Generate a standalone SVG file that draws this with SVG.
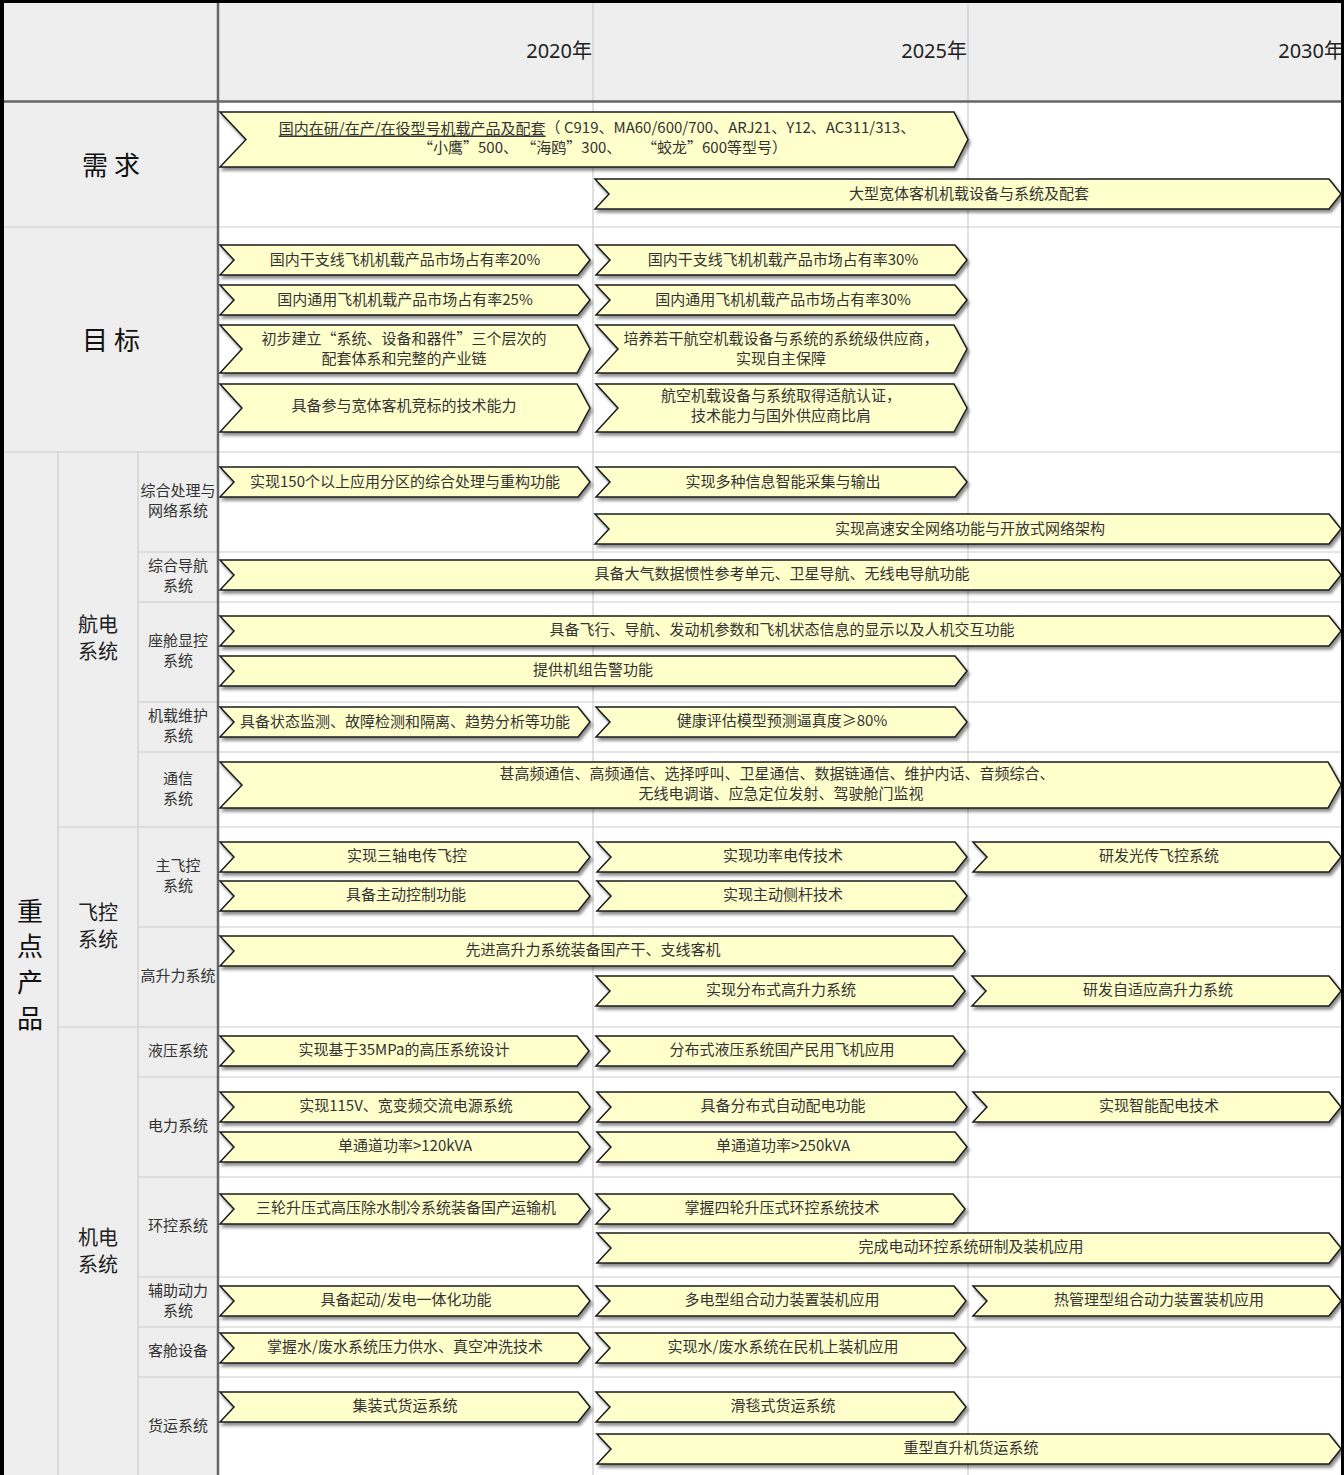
<svg xmlns="http://www.w3.org/2000/svg" width="1344" height="1475" viewBox="0 0 1344 1475">
<defs>
<filter id="sh" x="-5%" y="-20%" width="110%" height="160%">
<feDropShadow dx="2" dy="3" stdDeviation="1.5" flood-color="#000" flood-opacity="0.45"/>
</filter>
<style>
.chev{fill:#ffffcc;stroke:#1a1a1a;stroke-width:1.5;stroke-linejoin:miter;filter:url(#sh)}
.t{font-family:"Noto Sans CJK SC","Noto Sans",sans-serif;font-size:15px;fill:#333;text-anchor:middle;dominant-baseline:central;transform:translateY(-1.5px)}
.yr{font-family:"Noto Sans","Noto Sans CJK SC",sans-serif;font-size:20px;fill:#222;text-anchor:end;dominant-baseline:central;transform:translateY(-1px)}
.big{font-family:"Noto Sans CJK SC",sans-serif;font-size:26px;fill:#111;text-anchor:middle;dominant-baseline:central;transform:translateY(-2px)}
.mid{font-family:"Noto Sans CJK SC",sans-serif;font-size:20px;fill:#222;text-anchor:middle;dominant-baseline:central;transform:translateY(-1.5px)}
.sub{font-family:"Noto Sans CJK SC",sans-serif;font-size:15px;fill:#333;text-anchor:middle;dominant-baseline:central;transform:translateY(-1.5px)}
.lt{stroke:#cccccc;stroke-width:1.2;fill:none}
.dk{stroke:#666666;stroke-width:2.5;fill:none}
</style>
</defs>
<rect x="0" y="0" width="1344" height="1475" fill="#ffffff"/>
<g id="grid">
<rect x="4" y="3" width="1337" height="98" fill="#eeeeee"/>
<rect x="4" y="101" width="214" height="1374" fill="#eeeeee"/>
<line class="lt" x1="593" y1="3" x2="593" y2="1475"/>
<line class="lt" x1="968" y1="3" x2="968" y2="1475"/>
<line class="lt" x1="58" y1="452" x2="58" y2="1475"/>
<line class="lt" x1="138" y1="452" x2="138" y2="1475"/>
<line class="lt" x1="4" y1="227" x2="1341" y2="227"/>
<line class="lt" x1="4" y1="452" x2="1341" y2="452"/>
<line class="lt" x1="138" y1="552" x2="1341" y2="552"/>
<line class="lt" x1="138" y1="602" x2="1341" y2="602"/>
<line class="lt" x1="138" y1="702" x2="1341" y2="702"/>
<line class="lt" x1="138" y1="752" x2="1341" y2="752"/>
<line class="lt" x1="58" y1="827" x2="1341" y2="827"/>
<line class="lt" x1="138" y1="927" x2="1341" y2="927"/>
<line class="lt" x1="58" y1="1027" x2="1341" y2="1027"/>
<line class="lt" x1="138" y1="1077" x2="1341" y2="1077"/>
<line class="lt" x1="138" y1="1177" x2="1341" y2="1177"/>
<line class="lt" x1="138" y1="1277" x2="1341" y2="1277"/>
<line class="lt" x1="138" y1="1327" x2="1341" y2="1327"/>
<line class="lt" x1="138" y1="1377" x2="1341" y2="1377"/>
<line class="dk" x1="4" y1="101.5" x2="1341" y2="101.5"/>
<line class="dk" x1="218" y1="3" x2="218" y2="1475"/>
</g>
<g id="header">
<text class="yr" x="592" y="51">2020年</text>
<text class="yr" x="967" y="51">2025年</text>
<text class="yr" x="1344" y="51">2030年</text>
</g>
<g id="labels">
<text class="big" x="111" y="165">需 求</text>
<text class="big" x="111" y="340">目 标</text>
<text class="big" x="30" y="911">重</text>
<text class="big" x="30" y="946">点</text>
<text class="big" x="30" y="982">产</text>
<text class="big" x="30" y="1018">品</text>
<text class="mid" x="98" y="625">航电</text>
<text class="mid" x="98" y="652">系统</text>
<text class="mid" x="98" y="913">飞控</text>
<text class="mid" x="98" y="940">系统</text>
<text class="mid" x="98" y="1238">机电</text>
<text class="mid" x="98" y="1265">系统</text>
<text class="sub" x="178" y="491">综合处理与</text>
<text class="sub" x="178" y="511">网络系统</text>
<text class="sub" x="178" y="566">综合导航</text>
<text class="sub" x="178" y="586">系统</text>
<text class="sub" x="178" y="641">座舱显控</text>
<text class="sub" x="178" y="661">系统</text>
<text class="sub" x="178" y="716">机载维护</text>
<text class="sub" x="178" y="736">系统</text>
<text class="sub" x="178" y="779">通信</text>
<text class="sub" x="178" y="799">系统</text>
<text class="sub" x="178" y="866">主飞控</text>
<text class="sub" x="178" y="886">系统</text>
<text class="sub" x="178" y="976">高升力系统</text>
<text class="sub" x="178" y="1051">液压系统</text>
<text class="sub" x="178" y="1126">电力系统</text>
<text class="sub" x="178" y="1226">环控系统</text>
<text class="sub" x="178" y="1291">辅助动力</text>
<text class="sub" x="178" y="1311">系统</text>
<text class="sub" x="178" y="1351">客舱设备</text>
<text class="sub" x="178" y="1426">货运系统</text>
</g>
<g id="n-demand-1">
<polygon class="chev" points="220,112 954,112 968,139.5 954,167 220,167 246,139.5"/>
<text class="t" x="597" y="128"><tspan text-decoration="underline">国内在研/在产/在役型号机载产品及配套</tspan>（ C919、MA60/600/700、ARJ21、Y12、AC311/313、</text>
<text class="t" style="text-anchor:start" x="418" y="148">“小鹰”500、 “海鸥”300、</text>
<text class="t" style="text-anchor:start" x="642" y="148">“蛟龙”600等型号）</text>
</g>
<g id="n-demand-2">
<polygon class="chev" points="595,179 1329,179 1341,194 1329,209 595,209 609,194"/>
<text class="t" x="969" y="194">大型宽体客机机载设备与系统及配套</text>
</g>
<g id="n-goal-1a">
<polygon class="chev" points="220,245 578,245 590,260 578,275 220,275 234,260"/>
<text class="t" x="405" y="260">国内干支线飞机机载产品市场占有率20%</text>
</g>
<g id="n-goal-1b">
<polygon class="chev" points="596,245 955,245 967,260 955,275 596,275 610,260"/>
<text class="t" x="783" y="260">国内干支线飞机机载产品市场占有率30%</text>
</g>
<g id="n-goal-2a">
<polygon class="chev" points="220,285 578,285 590,300 578,315 220,315 234,300"/>
<text class="t" x="405" y="300">国内通用飞机机载产品市场占有率25%</text>
</g>
<g id="n-goal-2b">
<polygon class="chev" points="596,285 955,285 967,300 955,315 596,315 610,300"/>
<text class="t" x="783" y="300">国内通用飞机机载产品市场占有率30%</text>
</g>
<g id="n-goal-3a">
<polygon class="chev" points="220,325 577,325 590,349 577,373 220,373 242,349"/>
<text class="t" x="404" y="339">初步建立“系统、设备和器件”三个层次的</text>
<text class="t" x="404" y="359">配套体系和完整的产业链</text>
</g>
<g id="n-goal-3b">
<polygon class="chev" points="596,325 954,325 967,349 954,373 596,373 618,349"/>
<text class="t" x="781" y="339">培养若干航空机载设备与系统的系统级供应商，</text>
<text class="t" x="781" y="359">实现自主保障</text>
</g>
<g id="n-goal-4a">
<polygon class="chev" points="220,384 577,384 590,408 577,432 220,432 242,408"/>
<text class="t" x="404" y="406">具备参与宽体客机竞标的技术能力</text>
</g>
<g id="n-goal-4b">
<polygon class="chev" points="596,384 954,384 967,408 954,432 596,432 618,408"/>
<text class="t" x="781" y="396">航空机载设备与系统取得适航认证，</text>
<text class="t" x="781" y="416">技术能力与国外供应商比肩</text>
</g>
<g id="n-ips-1">
<polygon class="chev" points="220,467 578,467 590,482 578,497 220,497 234,482"/>
<text class="t" x="405" y="482">实现150个以上应用分区的综合处理与重构功能</text>
</g>
<g id="n-ips-2">
<polygon class="chev" points="596,467 955,467 967,482 955,497 596,497 610,482"/>
<text class="t" x="783" y="482">实现多种信息智能采集与输出</text>
</g>
<g id="n-ips-3">
<polygon class="chev" points="595,514 1329,514 1341,529 1329,544 595,544 609,529"/>
<text class="t" x="970" y="529">实现高速安全网络功能与开放式网络架构</text>
</g>
<g id="n-nav-1">
<polygon class="chev" points="220,560 1329,560 1341,575 1329,590 220,590 234,575"/>
<text class="t" x="782" y="574">具备大气数据惯性参考单元、卫星导航、无线电导航功能</text>
</g>
<g id="n-cds-1">
<polygon class="chev" points="220,616 1329,616 1341,631 1329,646 220,646 234,631"/>
<text class="t" x="782" y="630">具备飞行、导航、发动机参数和飞机状态信息的显示以及人机交互功能</text>
</g>
<g id="n-cds-2">
<polygon class="chev" points="220,656 955,656 967,671 955,686 220,686 234,671"/>
<text class="t" x="593" y="670">提供机组告警功能</text>
</g>
<g id="n-cms-1">
<polygon class="chev" points="220,707 578,707 590,722 578,737 220,737 234,722"/>
<text class="t" x="405" y="722">具备状态监测、故障检测和隔离、趋势分析等功能</text>
</g>
<g id="n-cms-2">
<polygon class="chev" points="596,707 955,707 967,722 955,737 596,737 610,722"/>
<text class="t" x="782" y="721">健康评估模型预测逼真度≥80%</text>
</g>
<g id="n-com-1">
<polygon class="chev" points="220,762 1328,762 1341,785 1328,808 220,808 242,785"/>
<text class="t" x="777" y="774">甚高频通信、高频通信、选择呼叫、卫星通信、数据链通信、维护内话、音频综合、</text>
<text class="t" x="781" y="794">无线电调谐、应急定位发射、驾驶舱门监视</text>
</g>
<g id="n-pfc-1">
<polygon class="chev" points="220,842 578,842 590,857 578,872 220,872 234,857"/>
<text class="t" x="407" y="856">实现三轴电传飞控</text>
</g>
<g id="n-pfc-2">
<polygon class="chev" points="597,842 955,842 967,857 955,872 597,872 611,857"/>
<text class="t" x="783" y="856">实现功率电传技术</text>
</g>
<g id="n-pfc-3">
<polygon class="chev" points="973,842 1329,842 1341,857 1329,872 973,872 987,857"/>
<text class="t" x="1159" y="856">研发光传飞控系统</text>
</g>
<g id="n-pfc-4">
<polygon class="chev" points="220,881 578,881 590,896 578,911 220,911 234,896"/>
<text class="t" x="406" y="895">具备主动控制功能</text>
</g>
<g id="n-pfc-5">
<polygon class="chev" points="597,881 955,881 967,896 955,911 597,911 611,896"/>
<text class="t" x="783" y="895">实现主动侧杆技术</text>
</g>
<g id="n-hl-1">
<polygon class="chev" points="220,936 953,936 965,951 953,966 220,966 234,951"/>
<text class="t" x="593" y="950">先进高升力系统装备国产干、支线客机</text>
</g>
<g id="n-hl-2">
<polygon class="chev" points="596,976 953,976 965,991 953,1006 596,1006 610,991"/>
<text class="t" x="781" y="990">实现分布式高升力系统</text>
</g>
<g id="n-hl-3">
<polygon class="chev" points="972,976 1329,976 1341,991 1329,1006 972,1006 986,991"/>
<text class="t" x="1158" y="990">研发自适应高升力系统</text>
</g>
<g id="n-hyd-1">
<polygon class="chev" points="220,1036 577,1036 589,1051 577,1066 220,1066 234,1051"/>
<text class="t" x="404" y="1050">实现基于35MPa的高压系统设计</text>
</g>
<g id="n-hyd-2">
<polygon class="chev" points="596,1036 953,1036 965,1051 953,1066 596,1066 610,1051"/>
<text class="t" x="782" y="1050">分布式液压系统国产民用飞机应用</text>
</g>
<g id="n-pwr-1">
<polygon class="chev" points="220,1092 578,1092 590,1107 578,1122 220,1122 234,1107"/>
<text class="t" x="406" y="1106">实现115V、宽变频交流电源系统</text>
</g>
<g id="n-pwr-2">
<polygon class="chev" points="597,1092 955,1092 967,1107 955,1122 597,1122 611,1107"/>
<text class="t" x="783" y="1106">具备分布式自动配电功能</text>
</g>
<g id="n-pwr-3">
<polygon class="chev" points="973,1092 1329,1092 1341,1107 1329,1122 973,1122 987,1107"/>
<text class="t" x="1159" y="1106">实现智能配电技术</text>
</g>
<g id="n-pwr-4">
<polygon class="chev" points="220,1132 578,1132 590,1147 578,1162 220,1162 234,1147"/>
<text class="t" x="405" y="1146">单通道功率&gt;120kVA</text>
</g>
<g id="n-pwr-5">
<polygon class="chev" points="597,1132 955,1132 967,1147 955,1162 597,1162 611,1147"/>
<text class="t" x="783" y="1146">单通道功率&gt;250kVA</text>
</g>
<g id="n-ecs-1">
<polygon class="chev" points="220,1194 578,1194 590,1209 578,1224 220,1224 234,1209"/>
<text class="t" x="406" y="1208">三轮升压式高压除水制冷系统装备国产运输机</text>
</g>
<g id="n-ecs-2">
<polygon class="chev" points="596,1194 953,1194 965,1209 953,1224 596,1224 610,1209"/>
<text class="t" x="782" y="1208">掌握四轮升压式环控系统技术</text>
</g>
<g id="n-ecs-3">
<polygon class="chev" points="597,1233 1329,1233 1341,1248 1329,1263 597,1263 611,1248"/>
<text class="t" x="971" y="1247">完成电动环控系统研制及装机应用</text>
</g>
<g id="n-apu-1">
<polygon class="chev" points="220,1286 578,1286 590,1301 578,1316 220,1316 234,1301"/>
<text class="t" x="406" y="1300">具备起动/发电一体化功能</text>
</g>
<g id="n-apu-2">
<polygon class="chev" points="596,1286 954,1286 966,1301 954,1316 596,1316 610,1301"/>
<text class="t" x="782" y="1300">多电型组合动力装置装机应用</text>
</g>
<g id="n-apu-3">
<polygon class="chev" points="973,1286 1329,1286 1341,1301 1329,1316 973,1316 987,1301"/>
<text class="t" x="1159" y="1300">热管理型组合动力装置装机应用</text>
</g>
<g id="n-cab-1">
<polygon class="chev" points="220,1333 578,1333 590,1348 578,1363 220,1363 234,1348"/>
<text class="t" x="405" y="1347">掌握水/废水系统压力供水、真空冲洗技术</text>
</g>
<g id="n-cab-2">
<polygon class="chev" points="596,1333 954,1333 966,1348 954,1363 596,1363 610,1348"/>
<text class="t" x="783" y="1347">实现水/废水系统在民机上装机应用</text>
</g>
<g id="n-cargo-1">
<polygon class="chev" points="220,1392 578,1392 590,1407 578,1422 220,1422 234,1407"/>
<text class="t" x="405" y="1406">集装式货运系统</text>
</g>
<g id="n-cargo-2">
<polygon class="chev" points="596,1392 954,1392 966,1407 954,1422 596,1422 610,1407"/>
<text class="t" x="783" y="1406">滑毯式货运系统</text>
</g>
<g id="n-cargo-3">
<polygon class="chev" points="597,1434 1329,1434 1341,1449 1329,1464 597,1464 611,1449"/>
<text class="t" x="971" y="1448">重型直升机货运系统</text>
</g>
<g id="border">
<rect x="0" y="0" width="1344" height="3" fill="#000"/>
<rect x="0" y="0" width="4" height="1475" fill="#000"/>
<rect x="1341" y="0" width="3" height="1475" fill="#000"/>
</g>
</svg>
